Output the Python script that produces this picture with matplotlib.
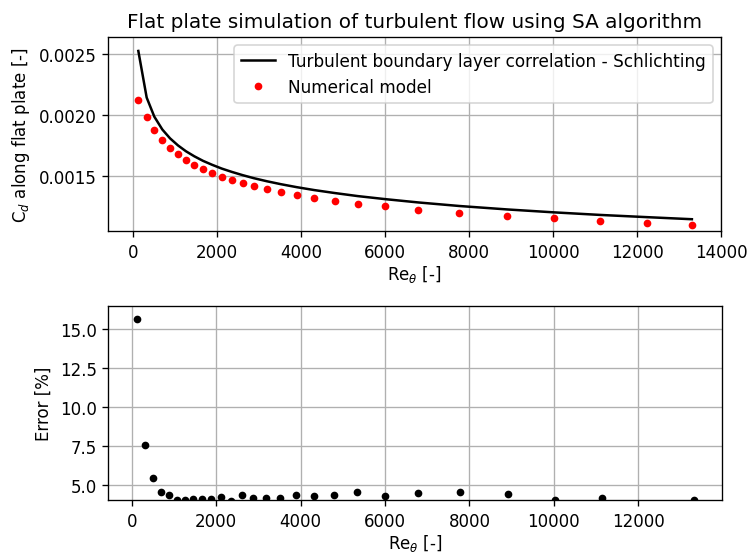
import matplotlib
matplotlib.use("Agg")
import matplotlib.pyplot as plt

# Re_theta le long de la plaque
re_theta = [119, 318, 500, 691, 874, 1064, 1255, 1454, 1660, 1875, 2105, 2343,
            2605, 2875, 3185, 3519, 3892, 4313, 4798, 5346, 6005, 6791, 7769,
            8904, 10024, 11128, 12233, 13306]

# Correlation de Schlichting
cd_corr = [0.002525, 0.002144, 0.001988, 0.001883, 0.001811, 0.001753, 0.001705,
           0.001664, 0.001627, 0.001595, 0.001564, 0.001537, 0.001510, 0.001485,
           0.001460, 0.001436, 0.001412, 0.001388, 0.001364, 0.001339, 0.001314,
           0.001287, 0.001258, 0.001230, 0.001206, 0.001185, 0.001167, 0.001150]

# Modele numerique (SA)
cd_num = [0.002121, 0.001985, 0.001879, 0.001800, 0.001732, 0.001683, 0.001636,
          0.001595, 0.001560, 0.001530, 0.001497, 0.001473, 0.001443, 0.001421,
          0.001396, 0.001375, 0.001347, 0.001326, 0.001301, 0.001277, 0.001255,
          0.001228, 0.001200, 0.001173, 0.001157, 0.001135, 0.001121, 0.001102]

# Erreur relative en % (le point a 12233 tombe sous l'axe)
error = [15.66, 7.52, 5.45, 4.55, 4.34, 3.99, 4.02, 4.10, 4.08, 4.06, 4.21, 3.97,
         4.34, 4.13, 4.13, 4.13, 4.34, 4.30, 4.34, 4.51, 4.25, 4.47, 4.55, 4.38,
         4.03, 4.15, 3.60, 4.03]

fig = plt.figure(figsize=(6.242, 4.608), dpi=120)

# --- Cd le long de la plaque ---
ax1 = fig.add_axes([0.1446, 0.5799, 0.8180, 0.3519])
ax1.plot(re_theta, cd_corr, color="black", linewidth=1.5,
         label="Turbulent boundary layer correlation - Schlichting")
ax1.plot(re_theta, cd_num, "o", color="red", markersize=3.6, linestyle="none",
         label="Numerical model")
ax1.set_xlim(-596, 14000)
ax1.set_ylim(0.001051, 0.002641)
ax1.set_xticks(range(0, 14001, 2000))
ax1.set_yticks([0.0015, 0.0020, 0.0025])
ax1.set_xlabel(r"Re$_\theta$ [-]", labelpad=1.5)
ax1.set_ylabel(r"C$_d$ along flat plate [-]")
ax1.set_title("Flat plate simulation of turbulent flow using SA algorithm")
ax1.legend(loc="upper right", numpoints=1, fontsize=10.1)
ax1.grid(True)

# --- Erreur ---
ax2 = fig.add_axes([0.1446, 0.0935, 0.8190, 0.3508])
ax2.plot(re_theta, error, "o", color="black", markersize=3.6, linestyle="none")
ax2.set_xlim(-553, 13975)
ax2.set_ylim(4.0, 16.45)
ax2.set_xticks(range(0, 12001, 2000))
ax2.set_yticks([5.0, 7.5, 10.0, 12.5, 15.0])
ax2.set_xlabel(r"Re$_\theta$ [-]", labelpad=1.5)
ax2.set_ylabel("Error [%]")
ax2.grid(True)

fig.savefig("out.png", dpi=120)
